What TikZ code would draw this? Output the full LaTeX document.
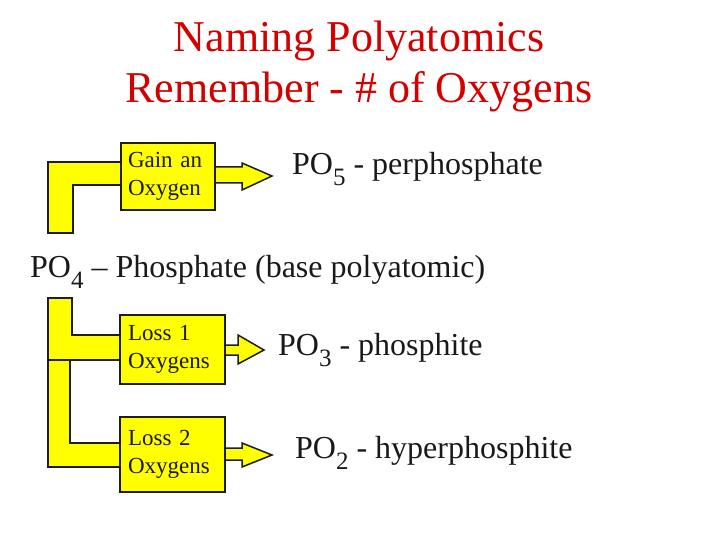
\documentclass[tikz,border=0pt]{standalone}
\usepackage{fontspec}
\setmainfont{Liberation Serif}
\definecolor{titlered}{RGB}{212,0,0}
\definecolor{boxyellow}{RGB}{255,255,0}
\definecolor{edgegray}{RGB}{30,30,20}
\definecolor{bodytext}{RGB}{25,25,25}
\newcommand{\lowsub}[1]{\raisebox{-11pt}{\fontsize{25}{25}\selectfont #1}}
\begin{document}
\begin{tikzpicture}[x=1pt,y=-1pt,
  band/.style={fill=boxyellow, draw=edgegray, line width=1.5pt, line join=miter},
  opbox/.style={rectangle, fill=boxyellow, draw=edgegray, line width=1.5pt,
    inner ysep=0pt, align=left, text=bodytext, font=\fontsize{23}{28}\selectfont},
  formula/.style={anchor=base west, inner sep=0pt, text=bodytext, font=\fontsize{32}{38}\selectfont},
  titletext/.style={anchor=base, inner sep=0pt, text=titlered, font=\fontsize{44}{51}\selectfont}]
\useasboundingbox (0,0) rectangle (720,540);

% title
\node[titletext] (title1) at (359,52) {Naming Polyatomics};
\node[titletext] (title2) at (359,103) {Remember - \# of Oxygens};

% connecting bands (drawn below the boxes)
\draw[band] (48,233) -- (48,162) -- (121,162) -- (121,185) -- (73,185) -- (73,233) -- cycle;
\draw[band] (48,298) -- (72,298) -- (72,335) -- (120,335) -- (120,360) -- (48,360) -- cycle;
\draw[band] (48,360) -- (70,360) -- (70,443) -- (120,443) -- (120,467) -- (48,467) -- cycle;

% block arrows
\draw[band] (215,167) -- (242,167) -- (242,163) -- (272,176) -- (242,190) -- (242,183) -- (215,183) -- cycle;
\draw[band] (225,345) -- (238,345) -- (238,335) -- (264,350) -- (238,364) -- (238,355) -- (225,355) -- cycle;
\draw[band] (225,448) -- (242,448) -- (242,443) -- (272,455) -- (242,467) -- (242,460) -- (225,460) -- cycle;

% boxes
\node[opbox, inner xsep=7pt, text width=80pt, minimum height=67pt] (gain) at (168,176.5) {\raisebox{-2pt}{Gain an}\\\raisebox{-2pt}{Oxygen}};
\node[opbox, inner xsep=8pt, text width=89pt, minimum height=69pt] (loss1) at (172.5,349.5) {Loss 1\\Oxygens};
\node[opbox, inner xsep=8pt, text width=89pt, minimum height=75pt] (loss2) at (172.5,454.5) {Loss 2\\Oxygens};

% formulas
\node[formula] (po5) at (292,175) {PO\lowsub{5} - perphosphate};
\node[formula] (po4) at (30,277) {PO\lowsub{4} – Phosphate (base polyatomic)};
\node[formula] (po3) at (278,355) {PO\lowsub{3} - phosphite};
\node[formula] (po2) at (295,458) {PO\lowsub{2} - hyperphosphite};
\end{tikzpicture}
\end{document}
